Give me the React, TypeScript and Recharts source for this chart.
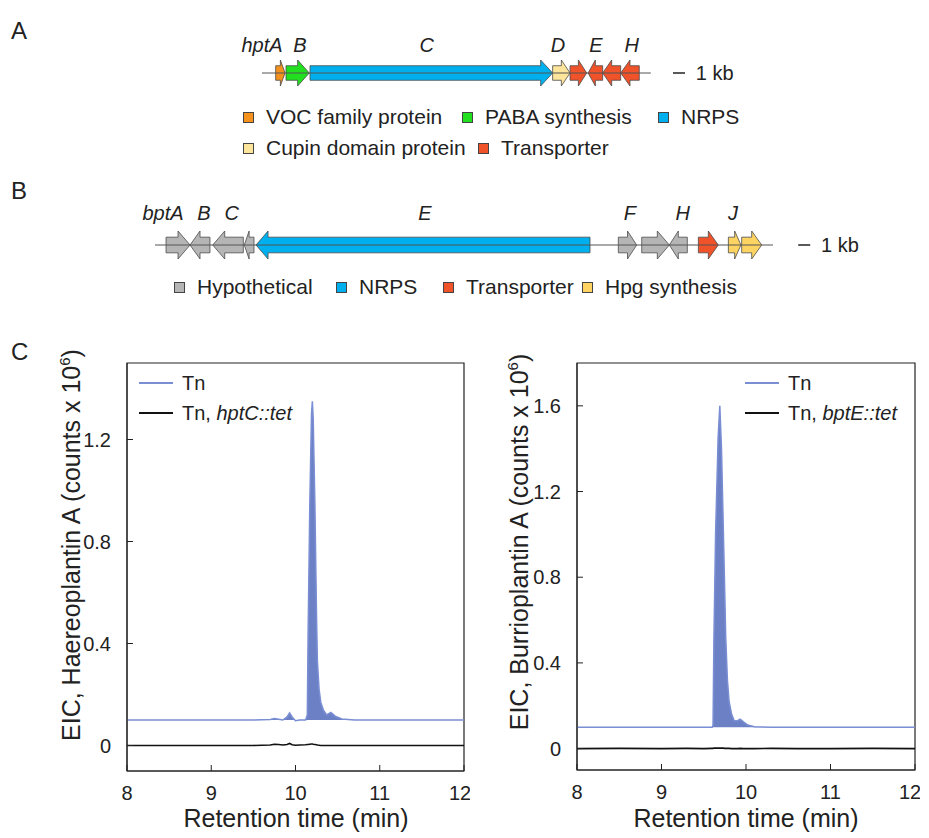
import React from 'react';
import {
  LineChart, Line, XAxis, YAxis, ReferenceArea, ReferenceDot, ReferenceLine,
  ComposedChart, Area, Legend,
} from 'recharts';

const FONT = '"Liberation Sans", Arial, Helvetica, sans-serif';
const INK = '#222';
const BLUE = '#7a8ed3';
const BLUE_FILL = '#6c80c6';

// ---- gene cluster A (hpt), positions in kb ----
const hptGenes = ['hptA', 'hptB', 'hptC', 'hptD', 'hptE', 'hptF', 'hptG', 'hptH'];
const hptStart = [1.14, 2.0, 4.0, 24.22, 25.67, 27.17, 28.39, 29.89];
const hptEnd = [1.92, 3.94, 24.22, 25.67, 27.06, 28.39, 29.89, 31.44];
const hptStrand = [1, 1, 1, 1, 1, -1, -1, -1];
const hptType = ['VOC family protein', 'PABA synthesis', 'NRPS', 'Cupin domain protein',
  'Transporter', 'Transporter', 'Transporter', 'Transporter'];
const hptLabels = ['hptA', 'B', 'C', 'D', 'E', 'H'];
const hptLabelAt = [0, 3.17, 13.72, 24.67, 27.83, 30.81];
const hptLength = 32.4;

// ---- gene cluster B (bpt), positions in kb ----
const bptGenes = ['bptA', 'bptB', 'bptC', 'bptD', 'bptE', 'bptF', 'bptG', 'bptH', 'bptI', 'bptJ', 'bptK'];
const bptStart = [0.92, 2.92, 4.81, 7.44, 8.42, 38.61, 40.56, 42.86, 45.28, 47.78, 48.89];
const bptEnd = [2.92, 4.58, 7.36, 8.25, 36.25, 40.14, 42.86, 44.36, 46.94, 48.83, 50.56];
const bptStrand = [1, -1, -1, -1, -1, 1, 1, -1, 1, 1, 1];
const bptType = ['Hypothetical', 'Hypothetical', 'Hypothetical', 'Hypothetical', 'NRPS',
  'Hypothetical', 'Hypothetical', 'Hypothetical', 'Transporter', 'Hpg synthesis', 'Hpg synthesis'];
const bptLabels = ['bptA', 'B', 'C', 'E', 'F', 'H', 'J'];
const bptLabelAt = [0.67, 4.08, 6.39, 22.5, 39.58, 43.97, 48.17];
const bptLength = 51.5;

const typeColors: Record<string, string> = {
  'VOC family protein': '#f5921e',
  'PABA synthesis': '#22e01f',
  'NRPS': '#00b0ee',
  'Cupin domain protein': '#fde59b',
  'Transporter': '#f0522a',
  'Hypothetical': '#b5b5b5',
  'Hpg synthesis': '#fdd462',
};

const legendA = ['VOC family protein', 'PABA synthesis', 'NRPS', 'Cupin domain protein', 'Transporter'];
const legendB = ['Hypothetical', 'NRPS', 'Transporter', 'Hpg synthesis'];

// ---- EIC traces ----
const timeTicks = [8, 9, 10, 11, 12];

const hptTime = [8.0, 8.5, 9.0, 9.5, 9.7, 9.75, 9.8, 9.85, 9.9, 9.93, 9.96, 10.0, 10.05, 10.12, 10.14,
  10.15, 10.17, 10.19, 10.2, 10.21, 10.23, 10.25, 10.26, 10.28, 10.3, 10.33, 10.37, 10.42, 10.47,
  10.55, 10.7, 11.0, 11.5, 12.0];
const hptTn = [0.1, 0.1, 0.1, 0.1, 0.102, 0.106, 0.103, 0.1, 0.112, 0.128, 0.112, 0.097, 0.1, 0.1, 0.12,
  0.45, 0.95, 1.3, 1.35, 1.28, 0.95, 0.5, 0.33, 0.22, 0.17, 0.14, 0.12, 0.13, 0.115,
  0.104, 0.1, 0.1, 0.1, 0.1];
const hptMut = [0, 0, 0, 0, 0.002, 0.005, 0.004, 0.002, 0.004, 0.008, 0.003, 0.001, 0.002, 0.003, 0.004,
  0.004, 0.005, 0.006, 0.006, 0.005, 0.004, 0.003, 0.002, 0.001, 0, 0, 0, 0, 0,
  0, 0, 0, 0, 0];
const hptSeries = ['Tn', 'Tn, hptC::tet'];
const hptYTicks = [0, 0.4, 0.8, 1.2];

const bptTime = [8.0, 8.5, 9.0, 9.3, 9.5, 9.6, 9.61, 9.62, 9.64, 9.67, 9.69, 9.71, 9.73, 9.75, 9.76,
  9.78, 9.8, 9.83, 9.86, 9.9, 9.93, 9.97, 10.02, 10.1, 10.3, 10.6, 11.0, 11.5, 12.0];
const bptTn = [0.1, 0.1, 0.1, 0.1, 0.1, 0.1, 0.11, 0.5, 1.0, 1.45, 1.6, 1.4, 1.05, 0.7, 0.52,
  0.32, 0.22, 0.16, 0.13, 0.13, 0.137, 0.125, 0.11, 0.102, 0.1, 0.1, 0.1, 0.1, 0.1];
const bptMut = [0, 0.001, 0, 0.001, 0, 0.001, 0.001, 0.002, 0.002, 0.002, 0.002, 0.002, 0.002, 0.001, 0.001,
  0.001, 0.001, 0, 0, 0, 0.001, 0, 0, 0, 0.001, 0, 0, 0.001, 0];
const bptSeries = ['Tn', 'Tn, bptE::tet'];
const bptYTicks = [0, 0.4, 0.8, 1.2, 1.6];

const PX_PER_KB = 12;

function GeneArrow(props: any) {
  const { x, y, width, height, strand, color } = props;
  const yc = y + height / 2;
  const body = height * 0.56;
  const head = Math.min(12, width * 0.5);
  const top = yc - body / 2;
  const bot = yc + body / 2;
  let pts: number[][];
  if (strand > 0) {
    const hx = x + width - head;
    pts = [[x, top], [hx, top], [hx, y], [x + width, yc], [hx, y + height], [hx, bot], [x, bot]];
  } else {
    const hx = x + head;
    pts = [[x + width, top], [hx, top], [hx, y], [x, yc], [hx, y + height], [hx, bot], [x + width, bot]];
  }
  return (
    <polygon points={pts.map((p) => p.join(',')).join(' ')} fill={color} stroke="#4a4a4a" strokeWidth={0.8} />
  );
}

function GeneCluster(props: any) {
  const { genes, start, end, strand, type, labels, labelAt, length, left, top, width, height,
    padLeft, rowY, labelY, arrowH, scaleAt } = props;
  const plotW = width - padLeft;
  const backbone = [{ x: 0, y: rowY }, { x: length, y: rowY }];
  return (
    <div style={{ position: 'absolute', left, top }}>
      <LineChart width={width} height={height} data={backbone} margin={{ top: 0, right: 0, bottom: 0, left: padLeft }}>
        <XAxis type="number" dataKey="x" domain={[0, plotW / PX_PER_KB]} hide allowDataOverflow />
        <YAxis type="number" domain={[0, height]} reversed hide allowDataOverflow />
        <Line dataKey="y" stroke="#555" strokeWidth={1} dot={false} activeDot={false} isAnimationActive={false} />
        {genes.map((g: string, i: number) => (
          <ReferenceArea
            key={g}
            x1={start[i]}
            x2={end[i]}
            y1={rowY - arrowH / 2}
            y2={rowY + arrowH / 2}
            ifOverflow="visible"
            shape={(p: any) => <GeneArrow {...p} strand={strand[i]} color={typeColors[type[i]]} />}
          />
        ))}
        {labels.map((l: string, i: number) => (
          <ReferenceDot
            key={l}
            x={labelAt[i]}
            y={labelY}
            ifOverflow="visible"
            shape={(p: any) => (
              <text x={p.cx} y={p.cy} textAnchor="middle" dominantBaseline="central" fontStyle="italic"
                fontSize={20} fontFamily={FONT} fill={INK}>{l}</text>
            )}
          />
        ))}
        <ReferenceLine segment={[{ x: scaleAt, y: rowY }, { x: scaleAt + 1, y: rowY }]} stroke={INK} strokeWidth={1.5} ifOverflow="visible" />
        <ReferenceDot
          x={scaleAt + 1.9}
          y={rowY}
          ifOverflow="visible"
          shape={(p: any) => (
            <text x={p.cx} y={p.cy} dominantBaseline="central" fontSize={20} fontFamily={FONT} fill={INK}>1 kb</text>
          )}
        />
      </LineChart>
    </div>
  );
}

function seriesName(n: string) {
  const k = n.indexOf(', ');
  if (k < 0) return n;
  return <>{n.slice(0, k + 2)}<i>{n.slice(k + 2)}</i></>;
}

function Chromatogram(props: any) {
  const { time, tn, mut, names, yMax, yTicks, left, margin, legendX } = props;
  const data = time.map((t: number, i: number) => ({ t, tn: tn[i], mut: mut[i] }));
  const tickStyle = { fill: INK, fontSize: 20, fontFamily: FONT };
  return (
    <div style={{ position: 'absolute', left, top: 340 }}>
      <ComposedChart width={470} height={500} data={data} margin={margin}>
        <XAxis type="number" dataKey="t" domain={[8, 12]} ticks={timeTicks} tickSize={-6} tickMargin={21}
          height={40} axisLine={{ stroke: INK }} tickLine={{ stroke: INK }} tick={tickStyle} allowDataOverflow />
        <YAxis type="number" domain={[-0.1, yMax]} ticks={yTicks} width={60} tickSize={-6} tickMargin={22}
          axisLine={{ stroke: INK }} tickLine={{ stroke: INK }} tick={tickStyle} allowDataOverflow />
        <ReferenceArea x1={8} x2={12} y1={-0.1} y2={yMax} fill="none" stroke={INK} strokeWidth={1.2} />
        <Area type="linear" dataKey="tn" name={names[0]} baseValue={0.1} stroke={BLUE} strokeWidth={1.5}
          fill={BLUE_FILL} fillOpacity={1} dot={false} activeDot={false} isAnimationActive={false} />
        <Line type="linear" dataKey="mut" name={names[1]} stroke="#111" strokeWidth={1.6}
          dot={false} activeDot={false} isAnimationActive={false} />
        <Legend
          layout="vertical"
          align="center"
          verticalAlign="middle"
          wrapperStyle={{ left: legendX, top: 28, width: 'auto' }}
          content={() => (
            <div style={{ fontFamily: FONT, fontSize: 20, color: INK }}>
              {names.map((n: string, i: number) => (
                <div key={n} style={{ display: 'flex', alignItems: 'center', height: 30 }}>
                  <span style={{ display: 'inline-block', width: 34, borderTop: `2px solid ${i === 0 ? BLUE : '#111'}`, marginRight: 9 }} />
                  <span>{seriesName(n)}</span>
                </div>
              ))}
            </div>
          )}
        />
      </ComposedChart>
    </div>
  );
}

function LegendRow(props: any) {
  const { items, xs, ys, textGap } = props;
  return (
    <>
      {items.map((it: string, i: number) => (
        <div key={it} style={{ position: 'absolute', left: xs[i], top: ys[i] - 12, height: 24, display: 'flex',
          alignItems: 'center', fontFamily: FONT, fontSize: 21, color: INK, whiteSpace: 'nowrap' }}>
          <span style={{ display: 'inline-block', width: 9, height: 9, background: typeColors[it],
            border: '1px solid #444', marginRight: textGap }} />
          <span>{it}</span>
        </div>
      ))}
    </>
  );
}

const panelStyle: React.CSSProperties = {
  position: 'absolute', fontFamily: FONT, fontSize: 24, lineHeight: '24px', color: INK,
};

const axisTitle: React.CSSProperties = {
  position: 'absolute', fontFamily: FONT, color: INK, whiteSpace: 'nowrap',
};

export default function App() {
  return (
    <div style={{ position: 'absolute', left: 0, top: 0, width: 929, height: 838, background: '#fff', overflow: 'hidden' }}>
      <div style={{ ...panelStyle, left: 11, top: 19 }}>A</div>
      <div style={{ ...panelStyle, left: 11, top: 179 }}>B</div>
      <div style={{ ...panelStyle, left: 11, top: 340 }}>C</div>

      <GeneCluster
        genes={hptGenes} start={hptStart} end={hptEnd} strand={hptStrand} type={hptType}
        labels={hptLabels} labelAt={hptLabelAt} length={hptLength}
        left={222} top={30} width={520} height={60} padLeft={40}
        rowY={43} labelY={15} arrowH={26} scaleAt={34.25}
      />
      <LegendRow items={legendA} xs={[243, 462, 658, 243, 478]} ys={[117, 117, 117, 148, 148]} textGap={12} />

      <GeneCluster
        genes={bptGenes} start={bptStart} end={bptEnd} strand={bptStrand} type={bptType}
        labels={bptLabels} labelAt={bptLabelAt} length={bptLength}
        left={125} top={195} width={750} height={70} padLeft={30}
        rowY={50} labelY={18} arrowH={28} scaleAt={53.6}
      />
      <LegendRow items={legendB} xs={[174, 336, 443, 582]} ys={[287, 287, 287, 287]} textGap={12} />

      <Chromatogram time={hptTime} tn={hptTn} mut={hptMut} names={hptSeries} yMax={1.5} yTicks={hptYTicks}
        left={0} margin={{ top: 23, right: 6, bottom: 29, left: 67 }} legendX={139} />
      <Chromatogram time={bptTime} tn={bptTn} mut={bptMut} names={bptSeries} yMax={1.8} yTicks={bptYTicks}
        left={450} margin={{ top: 23, right: 5, bottom: 30, left: 67 }} legendX={295} />

      <div style={{ ...axisTitle, left: 296, top: 818, fontSize: 25, transform: 'translate(-50%, -50%)' }}>
        Retention time (min)
      </div>
      <div style={{ ...axisTitle, left: 746, top: 818, fontSize: 25, transform: 'translate(-50%, -50%)' }}>
        Retention time (min)
      </div>
      <div style={{ ...axisTitle, left: 71, top: 545, fontSize: 25, transform: 'translate(-50%, -50%) rotate(-90deg)' }}>
        EIC, Haereoplantin A (counts x 10<sup style={{ fontSize: 15 }}>6</sup>)
      </div>
      <div style={{ ...axisTitle, left: 519, top: 542, fontSize: 25, transform: 'translate(-50%, -50%) rotate(-90deg)' }}>
        EIC, Burrioplantin A (counts x 10<sup style={{ fontSize: 15 }}>6</sup>)
      </div>
    </div>
  );
}
